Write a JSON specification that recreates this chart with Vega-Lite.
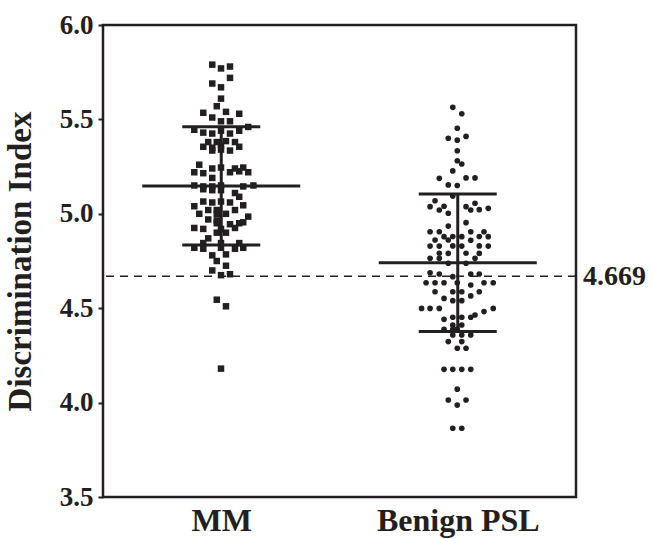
{
  "$schema": "https://vega.github.io/schema/vega-lite/v6.json",
  "autosize": {"type": "none"},
  "padding": {"left": 103, "top": 25, "right": 77, "bottom": 42},
  "width": 473,
  "height": 472,
  "background": "white",
  "config": {
    "view": {"stroke": "#231f20", "strokeWidth": 2.5},
    "axis": {"labelFont": "Liberation Serif", "labelFontWeight": "bold", "labelColor": "#231f20", "titleFont": "Liberation Serif", "titleFontWeight": "bold", "titleColor": "#231f20", "grid": false}
  },
  "datasets": {
    "mm": [
      {"pos":0.962,"value":5.79},{"pos":0.999,"value":5.77},{"pos":1.037,"value":5.78},
      {"pos":0.962,"value":5.69},{"pos":0.999,"value":5.67},{"pos":1.037,"value":5.72},
      {"pos":0.999,"value":5.61},
      {"pos":0.981,"value":5.57},{"pos":1.020,"value":5.54},{"pos":0.924,"value":5.535},{"pos":1.076,"value":5.53},
      {"pos":0.962,"value":5.51},{"pos":0.999,"value":5.49},{"pos":1.037,"value":5.49},
      {"pos":1.114,"value":5.46},
      {"pos":0.886,"value":5.445},{"pos":0.924,"value":5.43},{"pos":0.962,"value":5.425},{"pos":0.999,"value":5.44},{"pos":1.037,"value":5.425},{"pos":1.076,"value":5.44},
      {"pos":0.945,"value":5.38},{"pos":0.981,"value":5.38},{"pos":1.020,"value":5.385},{"pos":1.058,"value":5.38},
      {"pos":0.924,"value":5.355},{"pos":0.962,"value":5.35},{"pos":0.999,"value":5.36},{"pos":1.076,"value":5.355},
      {"pos":0.962,"value":5.335},{"pos":0.999,"value":5.34},{"pos":1.037,"value":5.335},
      {"pos":0.907,"value":5.26},
      {"pos":0.962,"value":5.24},{"pos":0.999,"value":5.245},{"pos":1.058,"value":5.24},{"pos":1.093,"value":5.245},
      {"pos":0.886,"value":5.22},{"pos":0.924,"value":5.215},{"pos":1.037,"value":5.22},{"pos":1.076,"value":5.225},{"pos":1.114,"value":5.22},
      {"pos":0.962,"value":5.19},
      {"pos":0.886,"value":5.15},{"pos":0.924,"value":5.145},{"pos":0.962,"value":5.145},{"pos":0.999,"value":5.15},{"pos":1.093,"value":5.145},{"pos":1.136,"value":5.15},
      {"pos":0.924,"value":5.13},{"pos":0.962,"value":5.125},{"pos":0.999,"value":5.125},
      {"pos":1.058,"value":5.11},
      {"pos":1.076,"value":5.09},
      {"pos":0.924,"value":5.065},{"pos":0.962,"value":5.06},{"pos":0.999,"value":5.065},{"pos":1.037,"value":5.06},
      {"pos":0.886,"value":5.04},{"pos":1.093,"value":5.045},
      {"pos":0.945,"value":5.02},{"pos":0.981,"value":5.02},{"pos":1.058,"value":5.02},
      {"pos":0.907,"value":5.0},{"pos":0.981,"value":5.0},{"pos":1.020,"value":5.0},
      {"pos":1.114,"value":4.985},
      {"pos":0.945,"value":4.97},{"pos":0.981,"value":4.965},
      {"pos":0.981,"value":4.95},{"pos":1.037,"value":4.945},{"pos":1.076,"value":4.95},{"pos":1.093,"value":4.955},
      {"pos":0.886,"value":4.925},{"pos":0.924,"value":4.92},{"pos":0.999,"value":4.92},{"pos":1.058,"value":4.925},
      {"pos":0.981,"value":4.9},{"pos":1.020,"value":4.9},
      {"pos":0.945,"value":4.87},
      {"pos":0.924,"value":4.845},{"pos":0.999,"value":4.845},{"pos":1.076,"value":4.845},
      {"pos":0.886,"value":4.82},{"pos":0.924,"value":4.815},{"pos":0.999,"value":4.82},{"pos":1.058,"value":4.815},{"pos":1.093,"value":4.82},
      {"pos":0.962,"value":4.78},{"pos":1.020,"value":4.785},
      {"pos":0.981,"value":4.75},
      {"pos":1.020,"value":4.725},
      {"pos":0.962,"value":4.70},
      {"pos":0.999,"value":4.675},{"pos":1.037,"value":4.68},
      {"pos":0.981,"value":4.545},
      {"pos":1.020,"value":4.51},
      {"pos":0.999,"value":4.18}
    ],
    "benign": [
      {"pos":1.979,"value":5.564},{"pos":2.017,"value":5.53},
      {"pos":1.998,"value":5.453},
      {"pos":2.035,"value":5.41},{"pos":1.960,"value":5.40},{"pos":1.998,"value":5.39},
      {"pos":1.998,"value":5.334},
      {"pos":1.998,"value":5.281},
      {"pos":2.017,"value":5.264},
      {"pos":1.979,"value":5.227},
      {"pos":1.922,"value":5.188},{"pos":2.035,"value":5.19},{"pos":2.073,"value":5.19},
      {"pos":1.960,"value":5.153},{"pos":1.998,"value":5.15},
      {"pos":1.979,"value":5.094},
      {"pos":1.904,"value":5.069},
      {"pos":2.073,"value":5.056},
      {"pos":1.883,"value":5.038},{"pos":1.942,"value":5.04},{"pos":2.035,"value":5.038},
      {"pos":2.129,"value":5.029},
      {"pos":1.922,"value":5.02},{"pos":2.055,"value":5.02},{"pos":2.091,"value":5.022},
      {"pos":1.960,"value":5.003},
      {"pos":2.035,"value":4.953},
      {"pos":1.960,"value":4.935},
      {"pos":1.883,"value":4.905},{"pos":1.922,"value":4.905},{"pos":2.055,"value":4.905},{"pos":2.111,"value":4.905},
      {"pos":1.942,"value":4.879},{"pos":1.979,"value":4.88},{"pos":2.017,"value":4.879},{"pos":2.091,"value":4.88},{"pos":2.129,"value":4.879},
      {"pos":1.904,"value":4.861},{"pos":1.960,"value":4.861},{"pos":2.055,"value":4.86},
      {"pos":1.883,"value":4.829},{"pos":1.922,"value":4.829},{"pos":1.979,"value":4.83},{"pos":2.017,"value":4.829},{"pos":2.091,"value":4.83},{"pos":2.129,"value":4.829},
      {"pos":1.922,"value":4.791},{"pos":1.960,"value":4.79},{"pos":2.035,"value":4.791},{"pos":2.091,"value":4.79},
      {"pos":1.883,"value":4.764},{"pos":1.922,"value":4.764},{"pos":2.073,"value":4.764},
      {"pos":1.960,"value":4.738},{"pos":2.035,"value":4.738},
      {"pos":1.883,"value":4.688},{"pos":1.922,"value":4.681},{"pos":2.055,"value":4.681},{"pos":2.091,"value":4.681},
      {"pos":1.979,"value":4.667},
      {"pos":1.866,"value":4.635},{"pos":1.904,"value":4.635},{"pos":1.942,"value":4.635},{"pos":1.998,"value":4.635},{"pos":2.111,"value":4.635},{"pos":2.150,"value":4.635},
      {"pos":2.055,"value":4.623},
      {"pos":1.904,"value":4.587},{"pos":1.979,"value":4.587},{"pos":2.017,"value":4.587},{"pos":2.091,"value":4.587},
      {"pos":2.055,"value":4.565},
      {"pos":1.942,"value":4.552},
      {"pos":1.979,"value":4.54},{"pos":2.017,"value":4.54},
      {"pos":1.847,"value":4.499},{"pos":1.883,"value":4.499},{"pos":1.922,"value":4.499},{"pos":2.150,"value":4.499},
      {"pos":2.111,"value":4.482},
      {"pos":2.073,"value":4.464},
      {"pos":1.979,"value":4.452},{"pos":2.017,"value":4.452},{"pos":2.055,"value":4.452},
      {"pos":1.942,"value":4.441},
      {"pos":1.979,"value":4.411},{"pos":2.017,"value":4.411},
      {"pos":1.942,"value":4.388},{"pos":1.979,"value":4.388},{"pos":1.998,"value":4.39},
      {"pos":1.979,"value":4.358},{"pos":2.017,"value":4.358},{"pos":2.055,"value":4.358},
      {"pos":1.960,"value":4.323},{"pos":2.017,"value":4.323},
      {"pos":1.998,"value":4.288},{"pos":2.035,"value":4.288},
      {"pos":1.942,"value":4.176},{"pos":1.979,"value":4.176},{"pos":2.017,"value":4.176},{"pos":2.055,"value":4.176},
      {"pos":1.998,"value":4.071},
      {"pos":1.960,"value":4.014},{"pos":2.035,"value":4.014},
      {"pos":1.998,"value":3.987},
      {"pos":1.979,"value":3.864},{"pos":2.017,"value":3.864}
    ],
    "stats": [
      {"group":"MM","center":1,"mean":5.147,"sd_lo":4.835,"sd_hi":5.461},
      {"group":"Benign PSL","center":2,"mean":4.741,"sd_lo":4.376,"sd_hi":5.105}
    ],
    "cutoff": [{"value":4.669,"label":"4.669"}]
  },
  "encoding": {
    "x": {"type":"quantitative","scale":{"domain":[0.5,2.5],"nice":false,"zero":false}},
    "y": {"type":"quantitative","scale":{"domain":[3.5,6.0],"nice":false,"zero":false}}
  },
  "layer": [
    {
      "data": {"name":"mm"},
      "mark": {"type":"point","shape":"square","filled":true,"size":42,"color":"#231f20","opacity":1},
      "encoding": {
        "x": {"field":"pos","type":"quantitative","scale":{"domain":[0.5,2.5],"nice":false,"zero":false},
          "axis":{"title":null,"values":[1,2],"labelExpr":"datum.value == 1 ? 'MM' : 'Benign PSL'","ticks":false,"domain":false,"labelFontSize":32,"labelPadding":8}},
        "y": {"field":"value","type":"quantitative","scale":{"domain":[3.5,6.0],"nice":false,"zero":false},
          "axis":{"title":"Discrimination Index","values":[3.5,4.0,4.5,5.0,5.5,6.0],"format":".1f","domain":false,"tickSize":5,"tickWidth":2,"tickColor":"#231f20","labelFontSize":27,"labelPadding":5,"titleFontSize":33,"titlePadding":22}}
      }
    },
    {
      "data": {"name":"benign"},
      "mark": {"type":"point","shape":"circle","filled":true,"size":32,"color":"#231f20","opacity":1},
      "encoding": {
        "x": {"field":"pos","type":"quantitative"},
        "y": {"field":"value","type":"quantitative"}
      }
    },
    {
      "data": {"name":"stats"},
      "mark": {"type":"tick","orient":"horizontal","size":158,"thickness":3,"color":"#231f20","opacity":1},
      "encoding": {
        "x": {"field":"center","type":"quantitative"},
        "y": {"field":"mean","type":"quantitative"}
      }
    },
    {
      "data": {"name":"stats"},
      "mark": {"type":"tick","orient":"horizontal","size":78,"thickness":3,"color":"#231f20","opacity":1},
      "encoding": {
        "x": {"field":"center","type":"quantitative"},
        "y": {"field":"sd_lo","type":"quantitative"}
      }
    },
    {
      "data": {"name":"stats"},
      "mark": {"type":"tick","orient":"horizontal","size":78,"thickness":3,"color":"#231f20","opacity":1},
      "encoding": {
        "x": {"field":"center","type":"quantitative"},
        "y": {"field":"sd_hi","type":"quantitative"}
      }
    },
    {
      "data": {"name":"stats"},
      "mark": {"type":"rule","strokeWidth":3,"color":"#231f20"},
      "encoding": {
        "x": {"field":"center","type":"quantitative"},
        "y": {"field":"sd_lo","type":"quantitative"},
        "y2": {"field":"sd_hi"}
      }
    },
    {
      "data": {"name":"cutoff"},
      "mark": {"type":"rule","strokeWidth":1.6,"strokeDash":[8,6],"color":"#231f20"},
      "encoding": {
        "y": {"field":"value","type":"quantitative"}
      }
    },
    {
      "data": {"name":"cutoff"},
      "mark": {"type":"text","align":"left","baseline":"middle","dx":7,"dy":1,"font":"Liberation Serif","fontWeight":"bold","fontSize":28,"color":"#231f20"},
      "encoding": {
        "x": {"datum":2.5,"type":"quantitative"},
        "y": {"field":"value","type":"quantitative"},
        "text": {"field":"label"}
      }
    }
  ]
}
